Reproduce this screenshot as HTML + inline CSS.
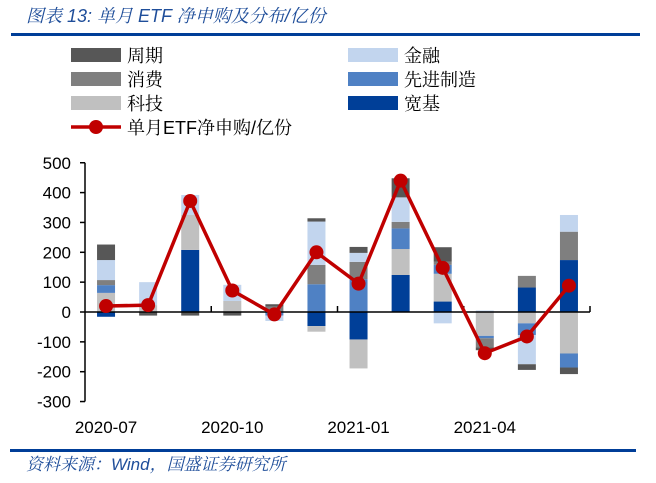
<!DOCTYPE html>
<html><head><meta charset="utf-8"><style>
body{margin:0;background:#fff;width:656px;height:483px;overflow:hidden;position:relative;font-family:"Liberation Sans","Noto Sans CJK SC",sans-serif}
.t{position:absolute;white-space:nowrap}
</style></head><body>
<div class="t" style="left:26px;top:2px;font-size:18px;color:#1f4e9a;font-style:italic;font-family:'Liberation Sans','Noto Serif CJK SC',serif">图表 13:  单月 ETF 净申购及分布/亿份</div>
<div style="position:absolute;left:11px;top:33px;width:629px;height:3px;background:#003e98"></div>
<div style="position:absolute;left:10px;top:449px;width:626px;height:3px;background:#003e98"></div>
<div class="t" style="left:26px;top:450px;font-size:17px;color:#1f4e9a;font-style:italic;font-family:'Liberation Sans','Noto Serif CJK SC',serif">资料来源：Wind，国盛证券研究所</div>
<svg id="c" width="656" height="483" style="position:absolute;left:0;top:0"></svg>
<script>
const months=['2020-07','2020-08','2020-09','2020-10','2020-11','2020-12','2021-01','2021-02','2021-03','2021-04','2021-05','2021-06'];
const kuanji=[-16,0,208,0,0,-47,-92,124,35,0,82,174];
const keji=[64,23,117,37,0,-19,-97,87,93,-80,-38,-139];
const xianjin=[26,0,0,0,-12,93,110,69,30,-8,-39,-47];
const xiaofei=[17,0,0,0,18,65,58,22,11,-30,39,95];
const jinrong=[67,77,67,54,-18,145,30,82,-38,5,-98,56];
const zhouqi=[52,-12,-12,-12,8,11,20,64,48,-10,-19,-22];
const netLine=[20,23,372,72,-8,200,95,440,148,-138,-82,88];
const yTicks=[500,400,300,200,100,0,-100,-200,-300];
const xLabels=['2020-07','2020-10','2021-01','2021-04'];
const xLabelIdx=[0,3,6,9];
const series=[['宽基',kuanji,'#003f98'],['科技',keji,'#c0c0c0'],['先进制造',xianjin,'#4f81c4'],['消费',xiaofei,'#7f7f7f'],['金融',jinrong,'#c2d5ee'],['周期',zhouqi,'#575757']];
const svg=document.getElementById('c');const NS='http://www.w3.org/2000/svg';
function mk(t,a,p){const e=document.createElementNS(NS,t);for(const k in a)e.setAttribute(k,a[k]);(p||svg).appendChild(e);return e;}
const x0=85,x1=590,step=(x1-x0)/months.length;
const y=v=>312-v*0.2985;
const xc=i=>x0+step*(i+0.5);
const pos=months.map(()=>0),neg=months.map(()=>0);
series.forEach(([nm,vals,col],si)=>{vals.forEach((v,i)=>{if(!v)return;let a,b;if(v>0){a=pos[i];b=a+v;pos[i]=b;}else{a=neg[i];b=a+v;neg[i]=b;}
const r=mk('rect',{x:xc(i)-9,y:Math.min(y(a),y(b)),width:18,height:Math.abs(y(a)-y(b)),fill:col});

});});
const ax=mk('line',{x1:x0,y1:y(500),x2:x0,y2:y(-300),stroke:'#000','stroke-width':1.5});

const zx=mk('line',{x1:x0,y1:y(0),x2:x1,y2:y(0),stroke:'#000','stroke-width':1.5});

yTicks.forEach(v=>{mk('line',{x1:x0-5,y1:y(v),x2:x0,y2:y(v),stroke:'#000','stroke-width':1.5});
const t=mk('text',{x:71,y:y(v)+6,'text-anchor':'end','font-size':17,fill:'#000'});t.textContent=v;
});
for(let k=3;k<=12;k+=3){mk('line',{x1:x0+step*k,y1:y(0)-6,x2:x0+step*k,y2:y(0),stroke:'#000','stroke-width':1.5});}
xLabels.forEach((l,j)=>{const t=mk('text',{x:xc(xLabelIdx[j]),y:433,'text-anchor':'middle','font-size':17,fill:'#000'});t.textContent=l;
});
const pl=mk('polyline',{points:netLine.map((v,i)=>xc(i)+','+y(v)).join(' '),fill:'none',stroke:'#c00000','stroke-width':3.5});

netLine.forEach((v,i)=>{const c=mk('circle',{cx:xc(i),cy:y(v),r:7,fill:'#c00000'});
});
const leg=[['周期','#575757',71,55],['消费','#7f7f7f',71,79],['科技','#c0c0c0',71,103],['金融','#c2d5ee',348,55],['先进制造','#4f81c4',348,79],['宽基','#003f98',348,103]];
leg.forEach(([nm,col,lx,ly])=>{const g=mk('g',{});
mk('rect',{x:lx,y:ly-7,width:50,height:14,fill:col},g);
const t=mk('text',{x:lx+56,y:ly+7,'font-size':18,fill:'#000','font-family':"'Liberation Serif','Noto Serif CJK SC',serif"},g);t.textContent=nm;});
const lg=mk('g',{});
mk('line',{x1:71,y1:127,x2:121,y2:127,stroke:'#c00000','stroke-width':3.5},lg);
mk('circle',{cx:96,cy:127,r:7,fill:'#c00000'},lg);
const lt=mk('text',{x:127,y:134,'font-size':18,fill:'#000','font-family':"'Liberation Sans','Noto Serif CJK SC',serif"},lg);lt.textContent='单月ETF净申购/亿份';
</script>
</body></html>
